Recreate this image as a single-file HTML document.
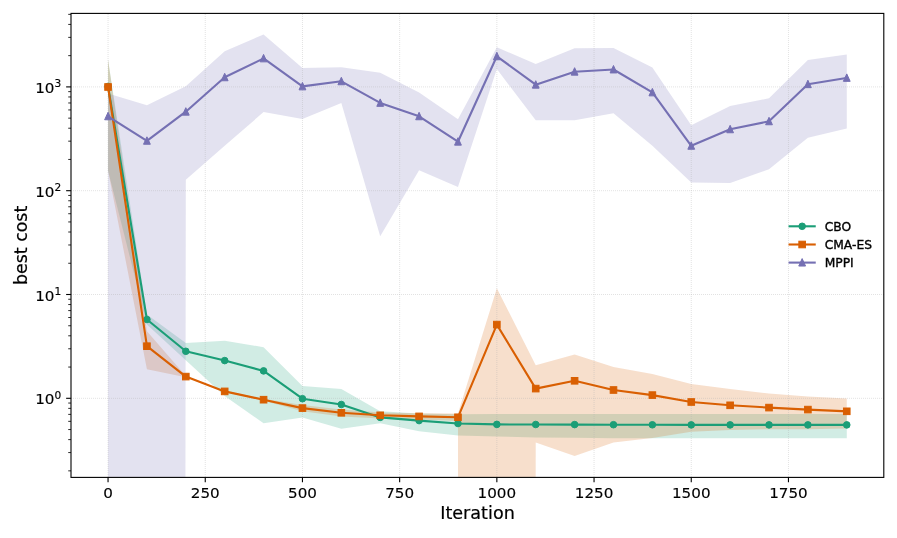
<!DOCTYPE html>
<html><head><meta charset="utf-8"><title>best cost vs Iteration</title>
<style>html,body{margin:0;padding:0;background:#fff}svg{display:block}text{font-family:"DejaVu Sans","Liberation Sans",sans-serif;fill:#000}</style></head><body>
<svg width="897" height="538" viewBox="0 0 897 538">
<rect width="897" height="538" fill="#fff"/>
<defs><clipPath id="ax"><rect x="71" y="13.4" width="812.8" height="464"/></clipPath></defs>
<g clip-path="url(#ax)">
<polygon fill="#1b9e77" fill-opacity="0.2" points="108.05,59.5 146.93,314.6 185.81,343.1 224.69,340.7 263.57,347.2 302.45,385.9 341.33,388.9 380.21,411.3 419.09,413.5 457.97,414.2 496.85,414.1 535.73,414.1 574.61,414.1 613.49,414.1 652.37,414.1 691.25,414.1 730.13,414.1 769.01,414.1 807.89,414.1 846.77,414.1 846.77,438.3 807.89,438.3 769.01,438.3 730.13,438.3 691.25,438.3 652.37,438.3 613.49,438.3 574.61,437.8 535.73,437.4 496.85,436.5 457.97,435.4 419.09,431.3 380.21,423.2 341.33,428.8 302.45,417.6 263.57,423.2 224.69,396 185.81,360.3 146.93,324.6 108.05,170.7"/>
<polygon fill="#d95f02" fill-opacity="0.2" points="108.05,59.5 146.93,331.3 185.81,376 224.69,390.8 263.57,398.7 302.45,405.1 341.33,409.5 380.21,412.4 419.09,413.3 457.97,413.5 496.85,288.2 535.73,365.2 574.61,354.4 613.49,367.1 652.37,373.9 691.25,384 730.13,389.1 769.01,393.5 807.89,396.4 846.77,398.4 846.77,428.5 807.89,429.2 769.01,429.2 730.13,430.1 691.25,431.7 652.37,438.1 613.49,442.6 574.61,455.9 535.73,442.5 496.85,31500 457.97,421 419.09,419.6 380.21,418.4 341.33,416.4 302.45,411.2 263.57,400.7 224.69,392 185.81,377.2 146.93,369.2 108.05,170.7"/>
<polygon fill="#7570b3" fill-opacity="0.2" points="108.05,93.5 146.93,105.2 185.81,86.2 224.69,51.2 263.57,34.5 302.45,67.9 341.33,67.3 380.21,72.8 419.09,92.5 457.97,119.2 496.85,47.2 535.73,64.1 574.61,48.3 613.49,47.9 652.37,67.5 691.25,125.3 730.13,106.1 769.01,98.3 807.89,60.1 846.77,54.5 846.77,128.6 807.89,137.7 769.01,169.2 730.13,183 691.25,182.6 652.37,145.8 613.49,113.3 574.61,120.3 535.73,120.3 496.85,69.1 457.97,187 419.09,170.2 380.21,236.3 341.33,103 302.45,118.9 263.57,112.1 224.69,145.7 185.81,179.8 146.93,31500 108.05,31500"/>
</g>
<g stroke="#b0b0b0" stroke-opacity="0.46" stroke-width="0.8" stroke-dasharray="1 1" fill="none"><path d="M108.05 477V13"/><path d="M205.25 477V13"/><path d="M302.45 477V13"/><path d="M399.65 477V13"/><path d="M496.85 477V13"/><path d="M594.05 477V13"/><path d="M691.25 477V13"/><path d="M788.45 477V13"/><path d="M71 398.3H884"/><path d="M71 294.5H884"/><path d="M71 190.7H884"/><path d="M71 86.9H884"/></g>
<g clip-path="url(#ax)">
<polyline fill="none" stroke="#1b9e77" stroke-width="2.1" stroke-linejoin="round" stroke-linecap="square" points="108.05,86.5 146.93,319.5 185.81,351.3 224.69,360.6 263.57,370.9 302.45,398.7 341.33,404.5 380.21,417.4 419.09,420.6 457.97,423.5 496.85,424.4 535.73,424.5 574.61,424.6 613.49,424.7 652.37,424.8 691.25,424.9 730.13,424.9 769.01,424.9 807.89,424.9 846.77,424.9"/>
<circle cx="108.05" cy="86.5" r="3.3" fill="#1b9e77" stroke="#1b9e77" stroke-width="1.0"/><circle cx="146.93" cy="319.5" r="3.3" fill="#1b9e77" stroke="#1b9e77" stroke-width="1.0"/><circle cx="185.81" cy="351.3" r="3.3" fill="#1b9e77" stroke="#1b9e77" stroke-width="1.0"/><circle cx="224.69" cy="360.6" r="3.3" fill="#1b9e77" stroke="#1b9e77" stroke-width="1.0"/><circle cx="263.57" cy="370.9" r="3.3" fill="#1b9e77" stroke="#1b9e77" stroke-width="1.0"/><circle cx="302.45" cy="398.7" r="3.3" fill="#1b9e77" stroke="#1b9e77" stroke-width="1.0"/><circle cx="341.33" cy="404.5" r="3.3" fill="#1b9e77" stroke="#1b9e77" stroke-width="1.0"/><circle cx="380.21" cy="417.4" r="3.3" fill="#1b9e77" stroke="#1b9e77" stroke-width="1.0"/><circle cx="419.09" cy="420.6" r="3.3" fill="#1b9e77" stroke="#1b9e77" stroke-width="1.0"/><circle cx="457.97" cy="423.5" r="3.3" fill="#1b9e77" stroke="#1b9e77" stroke-width="1.0"/><circle cx="496.85" cy="424.4" r="3.3" fill="#1b9e77" stroke="#1b9e77" stroke-width="1.0"/><circle cx="535.73" cy="424.5" r="3.3" fill="#1b9e77" stroke="#1b9e77" stroke-width="1.0"/><circle cx="574.61" cy="424.6" r="3.3" fill="#1b9e77" stroke="#1b9e77" stroke-width="1.0"/><circle cx="613.49" cy="424.7" r="3.3" fill="#1b9e77" stroke="#1b9e77" stroke-width="1.0"/><circle cx="652.37" cy="424.8" r="3.3" fill="#1b9e77" stroke="#1b9e77" stroke-width="1.0"/><circle cx="691.25" cy="424.9" r="3.3" fill="#1b9e77" stroke="#1b9e77" stroke-width="1.0"/><circle cx="730.13" cy="424.9" r="3.3" fill="#1b9e77" stroke="#1b9e77" stroke-width="1.0"/><circle cx="769.01" cy="424.9" r="3.3" fill="#1b9e77" stroke="#1b9e77" stroke-width="1.0"/><circle cx="807.89" cy="424.9" r="3.3" fill="#1b9e77" stroke="#1b9e77" stroke-width="1.0"/><circle cx="846.77" cy="424.9" r="3.3" fill="#1b9e77" stroke="#1b9e77" stroke-width="1.0"/>
<polyline fill="none" stroke="#d95f02" stroke-width="2.1" stroke-linejoin="round" stroke-linecap="square" points="108.05,87 146.93,346.2 185.81,376.6 224.69,391.4 263.57,399.7 302.45,408.1 341.33,412.8 380.21,415.3 419.09,416.4 457.97,417.3 496.85,324.6 535.73,388.6 574.61,380.8 613.49,390 652.37,395.1 691.25,402 730.13,405.3 769.01,407.6 807.89,409.6 846.77,411.3"/>
<rect x="104.75" y="83.7" width="6.6" height="6.6" fill="#d95f02" stroke="#d95f02" stroke-width="1.0"/><rect x="143.63" y="342.9" width="6.6" height="6.6" fill="#d95f02" stroke="#d95f02" stroke-width="1.0"/><rect x="182.51" y="373.3" width="6.6" height="6.6" fill="#d95f02" stroke="#d95f02" stroke-width="1.0"/><rect x="221.39" y="388.1" width="6.6" height="6.6" fill="#d95f02" stroke="#d95f02" stroke-width="1.0"/><rect x="260.27" y="396.4" width="6.6" height="6.6" fill="#d95f02" stroke="#d95f02" stroke-width="1.0"/><rect x="299.15" y="404.8" width="6.6" height="6.6" fill="#d95f02" stroke="#d95f02" stroke-width="1.0"/><rect x="338.03" y="409.5" width="6.6" height="6.6" fill="#d95f02" stroke="#d95f02" stroke-width="1.0"/><rect x="376.91" y="412" width="6.6" height="6.6" fill="#d95f02" stroke="#d95f02" stroke-width="1.0"/><rect x="415.79" y="413.1" width="6.6" height="6.6" fill="#d95f02" stroke="#d95f02" stroke-width="1.0"/><rect x="454.67" y="414" width="6.6" height="6.6" fill="#d95f02" stroke="#d95f02" stroke-width="1.0"/><rect x="493.55" y="321.3" width="6.6" height="6.6" fill="#d95f02" stroke="#d95f02" stroke-width="1.0"/><rect x="532.43" y="385.3" width="6.6" height="6.6" fill="#d95f02" stroke="#d95f02" stroke-width="1.0"/><rect x="571.31" y="377.5" width="6.6" height="6.6" fill="#d95f02" stroke="#d95f02" stroke-width="1.0"/><rect x="610.19" y="386.7" width="6.6" height="6.6" fill="#d95f02" stroke="#d95f02" stroke-width="1.0"/><rect x="649.07" y="391.8" width="6.6" height="6.6" fill="#d95f02" stroke="#d95f02" stroke-width="1.0"/><rect x="687.95" y="398.7" width="6.6" height="6.6" fill="#d95f02" stroke="#d95f02" stroke-width="1.0"/><rect x="726.83" y="402" width="6.6" height="6.6" fill="#d95f02" stroke="#d95f02" stroke-width="1.0"/><rect x="765.71" y="404.3" width="6.6" height="6.6" fill="#d95f02" stroke="#d95f02" stroke-width="1.0"/><rect x="804.59" y="406.3" width="6.6" height="6.6" fill="#d95f02" stroke="#d95f02" stroke-width="1.0"/><rect x="843.47" y="408" width="6.6" height="6.6" fill="#d95f02" stroke="#d95f02" stroke-width="1.0"/>
<polyline fill="none" stroke="#7570b3" stroke-width="2.1" stroke-linejoin="round" stroke-linecap="square" points="108.05,116.3 146.93,140.8 185.81,111.7 224.69,77.3 263.57,58.4 302.45,86.4 341.33,81.3 380.21,102.9 419.09,116.3 457.97,141.7 496.85,56.3 535.73,84.7 574.61,71.7 613.49,69.5 652.37,92.4 691.25,145.8 730.13,129.3 769.01,121.3 807.89,84.2 846.77,77.9"/>
<polygon points="108.05,112.3 104.65,119.75 111.45,119.75" fill="#7570b3" stroke="#7570b3" stroke-width="1.0" stroke-linejoin="miter"/><polygon points="146.93,136.8 143.53,144.25 150.33,144.25" fill="#7570b3" stroke="#7570b3" stroke-width="1.0" stroke-linejoin="miter"/><polygon points="185.81,107.7 182.41,115.15 189.21,115.15" fill="#7570b3" stroke="#7570b3" stroke-width="1.0" stroke-linejoin="miter"/><polygon points="224.69,73.3 221.29,80.75 228.09,80.75" fill="#7570b3" stroke="#7570b3" stroke-width="1.0" stroke-linejoin="miter"/><polygon points="263.57,54.4 260.17,61.85 266.97,61.85" fill="#7570b3" stroke="#7570b3" stroke-width="1.0" stroke-linejoin="miter"/><polygon points="302.45,82.4 299.05,89.85 305.85,89.85" fill="#7570b3" stroke="#7570b3" stroke-width="1.0" stroke-linejoin="miter"/><polygon points="341.33,77.3 337.93,84.75 344.73,84.75" fill="#7570b3" stroke="#7570b3" stroke-width="1.0" stroke-linejoin="miter"/><polygon points="380.21,98.9 376.81,106.35 383.61,106.35" fill="#7570b3" stroke="#7570b3" stroke-width="1.0" stroke-linejoin="miter"/><polygon points="419.09,112.3 415.69,119.75 422.49,119.75" fill="#7570b3" stroke="#7570b3" stroke-width="1.0" stroke-linejoin="miter"/><polygon points="457.97,137.7 454.57,145.15 461.37,145.15" fill="#7570b3" stroke="#7570b3" stroke-width="1.0" stroke-linejoin="miter"/><polygon points="496.85,52.3 493.45,59.75 500.25,59.75" fill="#7570b3" stroke="#7570b3" stroke-width="1.0" stroke-linejoin="miter"/><polygon points="535.73,80.7 532.33,88.15 539.13,88.15" fill="#7570b3" stroke="#7570b3" stroke-width="1.0" stroke-linejoin="miter"/><polygon points="574.61,67.7 571.21,75.15 578.01,75.15" fill="#7570b3" stroke="#7570b3" stroke-width="1.0" stroke-linejoin="miter"/><polygon points="613.49,65.5 610.09,72.95 616.89,72.95" fill="#7570b3" stroke="#7570b3" stroke-width="1.0" stroke-linejoin="miter"/><polygon points="652.37,88.4 648.97,95.85 655.77,95.85" fill="#7570b3" stroke="#7570b3" stroke-width="1.0" stroke-linejoin="miter"/><polygon points="691.25,141.8 687.85,149.25 694.65,149.25" fill="#7570b3" stroke="#7570b3" stroke-width="1.0" stroke-linejoin="miter"/><polygon points="730.13,125.3 726.73,132.75 733.53,132.75" fill="#7570b3" stroke="#7570b3" stroke-width="1.0" stroke-linejoin="miter"/><polygon points="769.01,117.3 765.61,124.75 772.41,124.75" fill="#7570b3" stroke="#7570b3" stroke-width="1.0" stroke-linejoin="miter"/><polygon points="807.89,80.2 804.49,87.65 811.29,87.65" fill="#7570b3" stroke="#7570b3" stroke-width="1.0" stroke-linejoin="miter"/><polygon points="846.77,73.9 843.37,81.35 850.17,81.35" fill="#7570b3" stroke="#7570b3" stroke-width="1.0" stroke-linejoin="miter"/>
</g>
<g stroke="#000" stroke-width="1.1" fill="none"><path d="M108.05 477.4v4.86"/><path d="M205.25 477.4v4.86"/><path d="M302.45 477.4v4.86"/><path d="M399.65 477.4v4.86"/><path d="M496.85 477.4v4.86"/><path d="M594.05 477.4v4.86"/><path d="M691.25 477.4v4.86"/><path d="M788.45 477.4v4.86"/><path d="M71 398.3h-4.86"/><path d="M71 294.5h-4.86"/><path d="M71 190.7h-4.86"/><path d="M71 86.9h-4.86"/></g><g stroke="#000" stroke-width="0.83" fill="none"><path d="M71 470.85h-2.78"/><path d="M71 452.57h-2.78"/><path d="M71 439.61h-2.78"/><path d="M71 429.55h-2.78"/><path d="M71 421.33h-2.78"/><path d="M71 414.38h-2.78"/><path d="M71 408.36h-2.78"/><path d="M71 403.05h-2.78"/><path d="M71 367.05h-2.78"/><path d="M71 348.77h-2.78"/><path d="M71 335.81h-2.78"/><path d="M71 325.75h-2.78"/><path d="M71 317.53h-2.78"/><path d="M71 310.58h-2.78"/><path d="M71 304.56h-2.78"/><path d="M71 299.25h-2.78"/><path d="M71 263.25h-2.78"/><path d="M71 244.97h-2.78"/><path d="M71 232.01h-2.78"/><path d="M71 221.95h-2.78"/><path d="M71 213.73h-2.78"/><path d="M71 206.78h-2.78"/><path d="M71 200.76h-2.78"/><path d="M71 195.45h-2.78"/><path d="M71 159.45h-2.78"/><path d="M71 141.17h-2.78"/><path d="M71 128.21h-2.78"/><path d="M71 118.15h-2.78"/><path d="M71 109.93h-2.78"/><path d="M71 102.98h-2.78"/><path d="M71 96.96h-2.78"/><path d="M71 91.65h-2.78"/><path d="M71 55.65h-2.78"/><path d="M71 37.37h-2.78"/><path d="M71 24.41h-2.78"/><path d="M71 14.35h-2.78"/></g>
<rect x="71" y="13.4" width="812.8" height="464" fill="none" stroke="#000" stroke-width="1.1"/>
<g><text transform="translate(108.05 498.3) scale(1.025 1)" font-size="14.8" text-anchor="middle" stroke="#000" stroke-width="0.15">0</text><text transform="translate(205.25 498.3) scale(1.025 1)" font-size="14.8" text-anchor="middle" stroke="#000" stroke-width="0.15">250</text><text transform="translate(302.45 498.3) scale(1.025 1)" font-size="14.8" text-anchor="middle" stroke="#000" stroke-width="0.15">500</text><text transform="translate(399.65 498.3) scale(1.025 1)" font-size="14.8" text-anchor="middle" stroke="#000" stroke-width="0.15">750</text><text transform="translate(496.85 498.3) scale(1.025 1)" font-size="14.8" text-anchor="middle" stroke="#000" stroke-width="0.15">1000</text><text transform="translate(594.05 498.3) scale(1.025 1)" font-size="14.8" text-anchor="middle" stroke="#000" stroke-width="0.15">1250</text><text transform="translate(691.25 498.3) scale(1.025 1)" font-size="14.8" text-anchor="middle" stroke="#000" stroke-width="0.15">1500</text><text transform="translate(788.45 498.3) scale(1.025 1)" font-size="14.8" text-anchor="middle" stroke="#000" stroke-width="0.15">1750</text><text transform="translate(35.2 404.3) scale(1.025 1)" font-size="14.8" text-anchor="start" stroke="#000" stroke-width="0.15">10<tspan font-size="10.36" dy="-5.8">0</tspan></text><text transform="translate(35.2 300.5) scale(1.025 1)" font-size="14.8" text-anchor="start" stroke="#000" stroke-width="0.15">10<tspan font-size="10.36" dy="-5.8">1</tspan></text><text transform="translate(35.2 196.7) scale(1.025 1)" font-size="14.8" text-anchor="start" stroke="#000" stroke-width="0.15">10<tspan font-size="10.36" dy="-5.8">2</tspan></text><text transform="translate(35.2 92.9) scale(1.025 1)" font-size="14.8" text-anchor="start" stroke="#000" stroke-width="0.15">10<tspan font-size="10.36" dy="-5.8">3</tspan></text></g>
<text transform="translate(477.5 518.8) scale(1.005 1)" font-size="17.5" text-anchor="middle" stroke="#000" stroke-width="0.2">Iteration</text>
<text transform="translate(27.4 245.4) rotate(-90)" font-size="17.4" text-anchor="middle" stroke="#000" stroke-width="0.2">best cost</text>
<path d="M789.6 226.3H814.7" stroke="#1b9e77" stroke-width="2.1" stroke-linecap="square" fill="none"/><circle cx="802.15" cy="226.3" r="3.3" fill="#1b9e77" stroke="#1b9e77" stroke-width="1.0"/><text transform="translate(824.7 230.5) scale(0.975 1)" font-size="12.6" text-anchor="start" stroke="#000" stroke-width="0.35">CBO</text><path d="M789.6 244.5H814.7" stroke="#d95f02" stroke-width="2.1" stroke-linecap="square" fill="none"/><rect x="798.85" y="241.2" width="6.6" height="6.6" fill="#d95f02" stroke="#d95f02" stroke-width="1.0"/><text transform="translate(824.7 248.7) scale(0.975 1)" font-size="12.6" text-anchor="start" stroke="#000" stroke-width="0.35">CMA-ES</text><path d="M789.6 262.6H814.7" stroke="#7570b3" stroke-width="2.1" stroke-linecap="square" fill="none"/><polygon points="802.15,258.6 798.75,266.05 805.55,266.05" fill="#7570b3" stroke="#7570b3" stroke-width="1.0" stroke-linejoin="miter"/><text transform="translate(824.7 266.8) scale(0.975 1)" font-size="12.6" text-anchor="start" stroke="#000" stroke-width="0.35">MPPI</text>
</svg></body></html>
